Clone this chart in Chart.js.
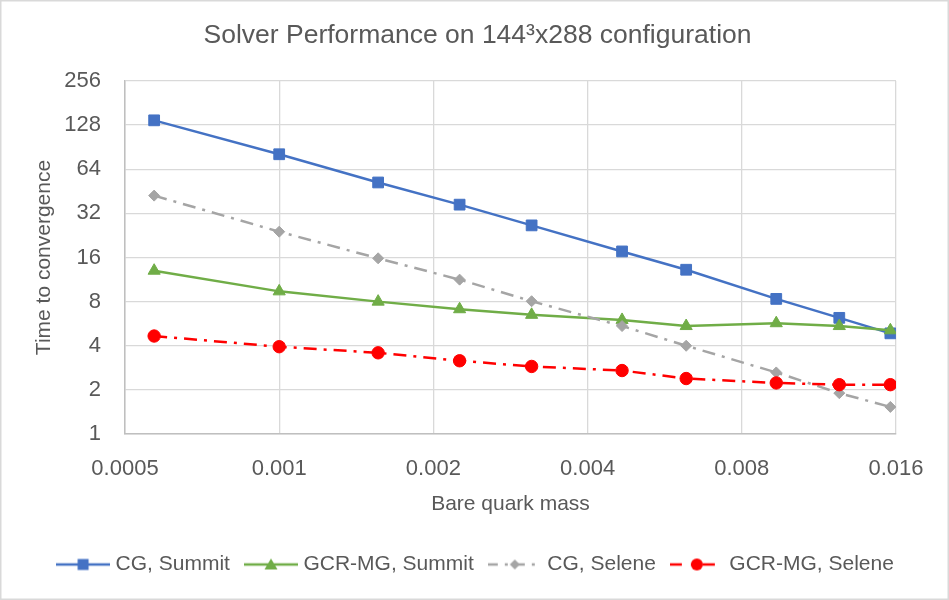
<!DOCTYPE html>
<html lang="en">
<head>
<meta charset="UTF-8">
<title>Solver Performance</title>
<script src="https://cdn.jsdelivr.net/npm/chart.js"></script>
<style>
  html, body { margin: 0; padding: 0; background: #ffffff; }
  #wrap { width: 949px; height: 600px; }
</style>
</head>
<body>
<div id="wrap"><canvas id="chart" width="949" height="600"></canvas></div>
<script>
// bare quark mass of each run
const quarkMass = [0.00057, 0.001, 0.00156, 0.00225, 0.00311, 0.00467, 0.00623, 0.00934, 0.0124, 0.0156];

// time to convergence
const cgSummit  = [138, 81, 52, 36.7, 26.5, 17.6, 13.2, 8.35, 6.2, 4.86];
const gcrSummit = [13.0, 9.4, 8.0, 7.1, 6.5, 6.0, 5.45, 5.7, 5.45, 5.1];
const cgSelene  = [42.3, 24.0, 15.8, 11.3, 8.05, 5.45, 4.0, 2.63, 1.9, 1.53];
const gcrSelene = [4.66, 3.94, 3.58, 3.16, 2.89, 2.71, 2.39, 2.23, 2.17, 2.17];

const seriesNames = ['CG, Summit', 'GCR-MG, Summit', 'CG, Selene', 'GCR-MG, Selene'];

const xTicks = [0.0005, 0.001, 0.002, 0.004, 0.008, 0.016];
const xTickLabels = ['0.0005', '0.001', '0.002', '0.004', '0.008', '0.016'];
const yTicks = [1, 2, 4, 8, 16, 32, 64, 128, 256];
const yTickLabels = ['1', '2', '4', '8', '16', '32', '64', '128', '256'];

const textColor = '#595959';
const gridColor = '#d9d9d9';
const dashDot = [13, 7, 3, 7];

Chart.defaults.font.family = '"Liberation Sans", Arial, sans-serif';
Chart.defaults.color = textColor;

function points(ys) {
    return quarkMass.map((x, i) => ({ x: x, y: ys[i] }));
}

// small line + marker picture for the legend, like the excel one
function legendSwatch(color, dash, marker) {
    const c = document.createElement('canvas');
    c.width = 54;
    c.height = 16;
    const g = c.getContext('2d');
    g.strokeStyle = color;
    g.fillStyle = color;
    g.lineWidth = 2.5;
    g.setLineDash(dash);
    g.beginPath();
    g.moveTo(0, 8);
    g.lineTo(54, 8);
    g.stroke();
    g.setLineDash([]);
    g.beginPath();
    if (marker === 'rect') {
        g.rect(21.5, 2.5, 11, 11);
    } else if (marker === 'triangle') {
        g.moveTo(27, 2);
        g.lineTo(33.5, 13);
        g.lineTo(20.5, 13);
        g.closePath();
    } else if (marker === 'rectRot') {
        g.moveTo(27, 3);
        g.lineTo(32, 8);
        g.lineTo(27, 13);
        g.lineTo(22, 8);
        g.closePath();
    } else {
        g.arc(27, 8, 6, 0, Math.PI * 2);
    }
    g.fill();
    return c;
}

const frame = {
    id: 'frame',
    beforeDraw(chart) {
        const ctx = chart.ctx;
        ctx.save();
        ctx.fillStyle = '#ffffff';
        ctx.fillRect(0, 0, chart.width, chart.height);
        ctx.strokeStyle = gridColor;
        ctx.lineWidth = 1.5;
        ctx.strokeRect(0.75, 0.75, chart.width - 1.5, chart.height - 1.5);
        ctx.restore();
    }
};

const datasets = [
    {
        label: seriesNames[0],
        data: points(cgSummit),
        borderColor: '#4472c4',
        backgroundColor: '#4472c4',
        borderWidth: 2.5,
        pointStyle: 'rect',
        pointRadius: 7.6,
        pointBorderWidth: 1,
        order: 4,
        swatch: legendSwatch('#4472c4', [], 'rect')
    },
    {
        label: seriesNames[1],
        data: points(gcrSummit),
        borderColor: '#70ad47',
        backgroundColor: '#70ad47',
        borderWidth: 2.5,
        pointStyle: 'triangle',
        pointRadius: 7,
        pointBorderWidth: 1,
        order: 3,
        swatch: legendSwatch('#70ad47', [], 'triangle')
    },
    {
        label: seriesNames[2],
        data: points(cgSelene),
        borderColor: '#a5a5a5',
        backgroundColor: '#a5a5a5',
        borderWidth: 2.5,
        borderDash: dashDot,
        pointStyle: 'rectRot',
        pointRadius: 5.5,
        pointBorderWidth: 1,
        order: 2,
        swatch: legendSwatch('#a5a5a5', [10, 7, 3, 7], 'rectRot')
    },
    {
        label: seriesNames[3],
        data: points(gcrSelene),
        borderColor: '#ff0000',
        backgroundColor: '#ff0000',
        borderWidth: 2.5,
        borderDash: dashDot,
        pointStyle: 'circle',
        pointRadius: 6.2,
        pointBorderWidth: 1,
        order: 1,
        swatch: legendSwatch('#ff0000', [12, 9, 3, 9], 'circle')
    }
];

new Chart(document.getElementById('chart'), {
    type: 'line',
    data: { datasets: datasets },
    plugins: [frame],
    options: {
        responsive: false,
        animation: false,
        layout: { padding: { left: 23, right: 17, top: 0, bottom: 15 } },
        plugins: {
            title: {
                display: true,
                text: 'Solver Performance on 144\u00b3x288 configuration',
                color: textColor,
                font: { size: 26.5, weight: 'normal' },
                padding: { top: 20, bottom: 29.2 }
            },
            legend: {
                position: 'bottom',
                labels: {
                    color: textColor,
                    font: { size: 21 },
                    padding: 19,
                    usePointStyle: true,
                    pointStyleWidth: 44,
                    generateLabels(chart) {
                        return chart.data.datasets.map((ds, i) => ({
                            text: ds.label,
                            fontColor: textColor,
                            pointStyle: ds.swatch,
                            fillStyle: ds.borderColor,
                            strokeStyle: ds.borderColor,
                            lineWidth: 0,
                            hidden: false,
                            datasetIndex: i
                        }));
                    }
                }
            },
            tooltip: { enabled: false }
        },
        scales: {
            x: {
                type: 'logarithmic',
                min: xTicks[0],
                max: xTicks[xTicks.length - 1],
                afterBuildTicks(axis) {
                    axis.ticks = xTicks.map(v => ({ value: v }));
                },
                afterFit(axis) {
                    axis.height = 101;
                    axis.paddingRight = 53;
                },
                ticks: {
                    font: { size: 22 },
                    color: textColor,
                    padding: 22,
                    maxRotation: 0,
                    autoSkip: false,
                    callback: (v, i) => xTickLabels[i]
                },
                grid: { color: gridColor, lineWidth: 1.3, drawTicks: false },
                border: { color: '#bfbfbf', width: 1.5 },
                title: {
                    display: true,
                    text: 'Bare quark mass',
                    color: textColor,
                    font: { size: 21 },
                    padding: { top: 0, bottom: 18.4 }
                }
            },
            y: {
                type: 'logarithmic',
                min: yTicks[0],
                max: yTicks[yTicks.length - 1],
                afterBuildTicks(axis) {
                    axis.ticks = yTicks.map(v => ({ value: v }));
                },
                afterFit(axis) {
                    axis.width = 102;
                },
                ticks: {
                    font: { size: 22 },
                    color: textColor,
                    padding: 24,
                    autoSkip: false,
                    callback: (v, i) => yTickLabels[i]
                },
                grid: { color: gridColor, lineWidth: 1.3, drawTicks: false },
                border: { color: '#bfbfbf', width: 1.5 },
                title: {
                    display: true,
                    text: 'Time to convergence',
                    color: textColor,
                    font: { size: 21 },
                    padding: { top: 8.4, bottom: 0 }
                }
            }
        }
    }
});
</script>
</body>
</html>
